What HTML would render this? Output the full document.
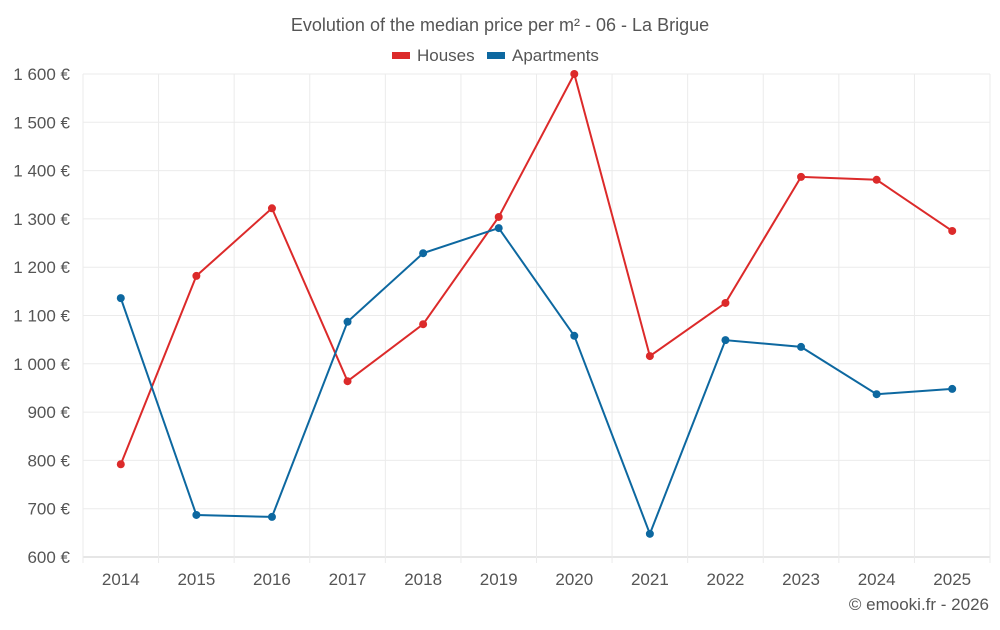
<!DOCTYPE html>
<html><head><meta charset="utf-8">
<style>
body{margin:0;background:#fff;font-family:"Liberation Sans",sans-serif;}
svg text{font-family:"Liberation Sans",sans-serif;fill:#555;}
</style></head>
<body>
<svg id="chart" width="1000" height="625" xmlns="http://www.w3.org/2000/svg">
<text x="500" y="31" text-anchor="middle" font-size="18">Evolution of the median price per m² - 06 - La Brigue</text>
<g>
<g><rect x="392" y="52" width="18" height="7" fill="#dc2a2a"/><text x="417" y="61" font-size="17">Houses</text></g>
<g><rect x="487" y="52" width="18" height="7" fill="#0d68a0"/><text x="512" y="61" font-size="17">Apartments</text></g>
</g>
<g id="grid"></g>
<g id="axes"></g>
<g id="series"></g>
<text x="989" y="610" text-anchor="end" font-size="17">© emooki.fr - 2026</text>
</svg>
<script>
const years=["2014","2015","2016","2017","2018","2019","2020","2021","2022","2023","2024","2025"];
const houses=[792,1182,1322,964,1082,1304,1600,1016,1126,1387,1381,1275];
const apartments=[1136,687,683,1087,1229,1281,1058,648,1049,1035,937,948];
const yTicks=[600,700,800,900,1000,1100,1200,1300,1400,1500,1600];
const yLabels=["600 €","700 €","800 €","900 €","1 000 €","1 100 €","1 200 €","1 300 €","1 400 €","1 500 €","1 600 €"];
const NS="http://www.w3.org/2000/svg";
const L=83,R=990,T=74,B=557,yMin=600,yMax=1600;
const bw=(R-L)/years.length;
function x(i){return L+bw*(i+0.5);}
function y(v){return B-(v-yMin)/(yMax-yMin)*(B-T);}
function mk(tag,attrs,parent){const e=document.createElementNS(NS,tag);for(const k in attrs)e.setAttribute(k,attrs[k]);parent.appendChild(e);return e;}
const grid=document.getElementById('grid'),axes=document.getElementById('axes'),series=document.getElementById('series');
yTicks.forEach((t,i)=>{
 const ln=mk('line',{x1:L,x2:R,y1:y(t),y2:y(t),stroke:i==0?'#ccc':'#ebebeb','stroke-width':1},grid);
 
 
 const tx=mk('text',{x:70,y:y(t)+6,'text-anchor':'end','font-size':17},axes);
 tx.textContent=yLabels[i];
 
 
});
for(let i=0;i<=years.length;i++){
 const gx=L+bw*i;
 const ln=mk('line',{x1:gx,x2:gx,y1:T,y2:B+6,stroke:'#ebebeb','stroke-width':1},grid);
 
 
}
years.forEach((yr,i)=>{
 const tx=mk('text',{x:x(i),y:585,'text-anchor':'middle','font-size':17},axes);
 tx.textContent=yr;
 
 
});
function draw(vals,color,name){
 const p=mk('polyline',{points:vals.map((v,i)=>x(i)+','+y(v)).join(' '),fill:'none',stroke:color,'stroke-width':2},series);
 
 
 vals.forEach((v,i)=>{
  const c=mk('circle',{cx:x(i),cy:y(v),r:4,fill:color},series);
  
  
 });
}
draw(houses,'#dc2a2a','houses');
draw(apartments,'#0d68a0','apartments');
</script>
</body></html>
